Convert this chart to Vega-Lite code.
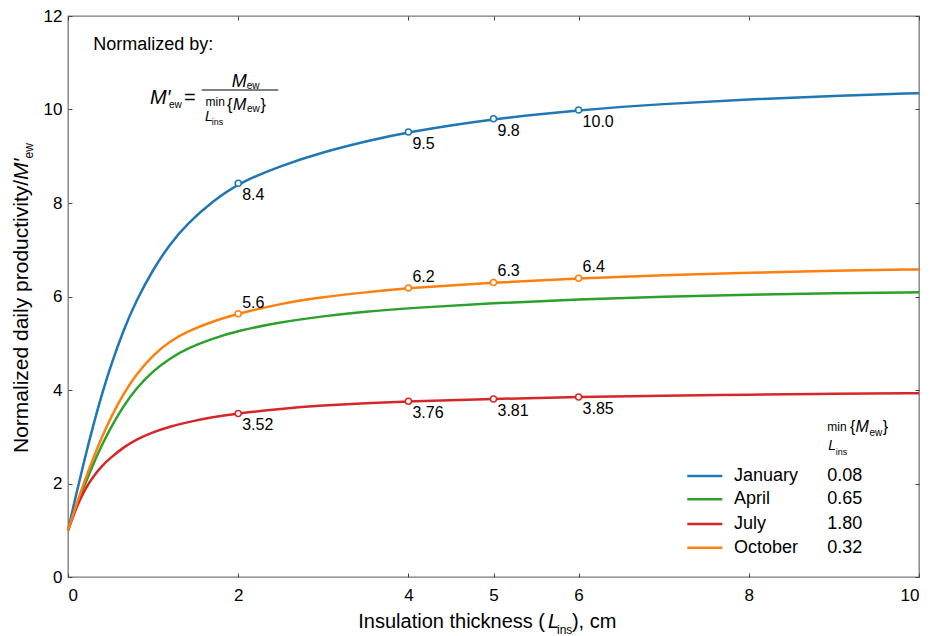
{
  "$schema": "https://vega.github.io/schema/vega-lite/v6.json",
  "width": 851,
  "height": 561,
  "autosize": {"type": "none"},
  "padding": {"left": 68, "top": 16, "right": 12, "bottom": 59},
  "background": "white",
  "config": {
    "view": {"stroke": "#7a7a7a", "strokeWidth": 1.3},
    "font": "Liberation Sans",
    "axis": {"domain": false, "grid": false, "ticks": true, "tickSize": -4, "tickColor": "#444", "tickWidth": 1, "labelFont": "Liberation Sans", "labelFontSize": 17, "labelColor": "#000"},
    "text": {"font": "Liberation Sans", "color": "#000"}
  },
  "datasets": {
    "curves": [
      {"series": "January", "x": 0, "y": 1.0}, {"series": "January", "x": 0.1, "y": 1.8}, {"series": "January", "x": 0.2, "y": 2.56}, {"series": "January", "x": 0.3, "y": 3.27}, {"series": "January", "x": 0.4, "y": 3.92}, {"series": "January", "x": 0.5, "y": 4.51}, {"series": "January", "x": 0.65, "y": 5.275}, {"series": "January", "x": 0.8, "y": 5.905}, {"series": "January", "x": 1.0, "y": 6.585}, {"series": "January", "x": 1.2, "y": 7.125}, {"series": "January", "x": 1.4, "y": 7.555}, {"series": "January", "x": 1.7, "y": 8.035}, {"series": "January", "x": 2, "y": 8.42}, {"series": "January", "x": 2.5, "y": 8.8}, {"series": "January", "x": 3, "y": 9.09}, {"series": "January", "x": 3.5, "y": 9.32}, {"series": "January", "x": 4, "y": 9.52}, {"series": "January", "x": 5, "y": 9.8}, {"series": "January", "x": 6, "y": 9.99}, {"series": "January", "x": 7, "y": 10.12}, {"series": "January", "x": 8, "y": 10.22}, {"series": "January", "x": 9, "y": 10.29}, {"series": "January", "x": 10, "y": 10.35},
      {"series": "April", "x": 0, "y": 1.0}, {"series": "April", "x": 0.1, "y": 1.51}, {"series": "April", "x": 0.2, "y": 1.99}, {"series": "April", "x": 0.3, "y": 2.43}, {"series": "April", "x": 0.4, "y": 2.83}, {"series": "April", "x": 0.5, "y": 3.19}, {"series": "April", "x": 0.65, "y": 3.655}, {"series": "April", "x": 0.8, "y": 4.03}, {"series": "April", "x": 1.0, "y": 4.41}, {"series": "April", "x": 1.2, "y": 4.68}, {"series": "April", "x": 1.4, "y": 4.89}, {"series": "April", "x": 1.7, "y": 5.1}, {"series": "April", "x": 2, "y": 5.27}, {"series": "April", "x": 2.5, "y": 5.45}, {"series": "April", "x": 3, "y": 5.58}, {"series": "April", "x": 3.5, "y": 5.68}, {"series": "April", "x": 4, "y": 5.75}, {"series": "April", "x": 5, "y": 5.86}, {"series": "April", "x": 6, "y": 5.94}, {"series": "April", "x": 7, "y": 6.0}, {"series": "April", "x": 8, "y": 6.04}, {"series": "April", "x": 9, "y": 6.07}, {"series": "April", "x": 10, "y": 6.09},
      {"series": "July", "x": 0, "y": 1.0}, {"series": "July", "x": 0.1, "y": 1.5}, {"series": "July", "x": 0.2, "y": 1.88}, {"series": "July", "x": 0.3, "y": 2.16}, {"series": "July", "x": 0.4, "y": 2.38}, {"series": "July", "x": 0.5, "y": 2.55}, {"series": "July", "x": 0.65, "y": 2.77}, {"series": "July", "x": 0.8, "y": 2.94}, {"series": "July", "x": 1.0, "y": 3.1}, {"series": "July", "x": 1.2, "y": 3.22}, {"series": "July", "x": 1.4, "y": 3.31}, {"series": "July", "x": 1.7, "y": 3.42}, {"series": "July", "x": 2, "y": 3.5}, {"series": "July", "x": 2.5, "y": 3.6}, {"series": "July", "x": 3, "y": 3.67}, {"series": "July", "x": 3.5, "y": 3.72}, {"series": "July", "x": 4, "y": 3.76}, {"series": "July", "x": 5, "y": 3.81}, {"series": "July", "x": 6, "y": 3.85}, {"series": "July", "x": 7, "y": 3.88}, {"series": "July", "x": 8, "y": 3.9}, {"series": "July", "x": 9, "y": 3.92}, {"series": "July", "x": 10, "y": 3.93},
      {"series": "October", "x": 0, "y": 1.0}, {"series": "October", "x": 0.1, "y": 1.56}, {"series": "October", "x": 0.2, "y": 2.08}, {"series": "October", "x": 0.3, "y": 2.56}, {"series": "October", "x": 0.4, "y": 3.0}, {"series": "October", "x": 0.5, "y": 3.4}, {"series": "October", "x": 0.65, "y": 3.918}, {"series": "October", "x": 0.8, "y": 4.33}, {"series": "October", "x": 1.0, "y": 4.75}, {"series": "October", "x": 1.2, "y": 5.05}, {"series": "October", "x": 1.4, "y": 5.25}, {"series": "October", "x": 1.7, "y": 5.47}, {"series": "October", "x": 2, "y": 5.63}, {"series": "October", "x": 2.5, "y": 5.85}, {"series": "October", "x": 3, "y": 5.99}, {"series": "October", "x": 3.5, "y": 6.09}, {"series": "October", "x": 4, "y": 6.18}, {"series": "October", "x": 5, "y": 6.3}, {"series": "October", "x": 6, "y": 6.39}, {"series": "October", "x": 7, "y": 6.46}, {"series": "October", "x": 8, "y": 6.51}, {"series": "October", "x": 9, "y": 6.55}, {"series": "October", "x": 10, "y": 6.58}
    ],
    "marked": [
      {"series": "January", "x": 2, "y": 8.42, "label": "8.4"}, {"series": "January", "x": 4, "y": 9.52, "label": "9.5"}, {"series": "January", "x": 5, "y": 9.8, "label": "9.8"}, {"series": "January", "x": 6, "y": 9.99, "label": "10.0"},
      {"series": "October", "x": 2, "y": 5.63, "label": "5.6"}, {"series": "October", "x": 4, "y": 6.18, "label": "6.2"}, {"series": "October", "x": 5, "y": 6.3, "label": "6.3"}, {"series": "October", "x": 6, "y": 6.39, "label": "6.4"},
      {"series": "July", "x": 2, "y": 3.5, "label": "3.52"}, {"series": "July", "x": 4, "y": 3.76, "label": "3.76"}, {"series": "July", "x": 5, "y": 3.81, "label": "3.81"}, {"series": "July", "x": 6, "y": 3.85, "label": "3.85"}
    ],
    "legendrows": [
      {"series": "January", "value": "0.08", "y": 2.161},
      {"series": "April", "value": "0.65", "y": 1.662},
      {"series": "July", "value": "1.80", "y": 1.134},
      {"series": "October", "value": "0.32", "y": 0.627}
    ],
    "t18": [{"x": 0.297, "y": 11.273, "text": "Normalized by:"}],
    "it21": [{"x": 0.964, "y": 10.118, "text": "M′"}],
    "n21": [{"x": 1.363, "y": 10.118, "text": "="}],
    "it18": [{"x": 1.924, "y": 10.481, "text": "M"}],
    "it16": [{"x": 1.939, "y": 9.989, "text": "M"}, {"x": 9.254, "y": 3.108, "text": "M"}],
    "n16": [{"x": 1.868, "y": 9.989, "text": "{"}, {"x": 2.262, "y": 9.989, "text": "}"}, {"x": 9.189, "y": 3.108, "text": "{"}, {"x": 9.574, "y": 3.108, "text": "}"}],
    "sub10": [{"x": 1.187, "y": 10.026, "text": "ew"}, {"x": 2.1, "y": 10.449, "text": "ew"}, {"x": 2.103, "y": 9.936, "text": "ew"}, {"x": 9.418, "y": 3.016, "text": "ew"}],
    "min12": [{"x": 1.616, "y": 10.075, "text": "min"}, {"x": 8.922, "y": 3.129, "text": "min"}],
    "itL14": [{"x": 1.61, "y": 9.75, "text": "L"}, {"x": 8.934, "y": 2.717, "text": "L"}],
    "ins9": [{"x": 1.689, "y": 9.665, "text": "ins"}, {"x": 9.021, "y": 2.61, "text": "ins"}],
    "bar": [{"x": 1.571, "x2": 2.471, "y": 10.417}],
    "xt20": [{"x": 3.411, "y": -1.097, "text": "Insulation thickness ("}, {"x": 5.922, "y": -1.097, "text": "), cm"}],
    "xtL": [{"x": 5.64, "y": -1.097, "text": "L"}],
    "xtins": [{"x": 5.746, "y": -1.219, "text": "ins"}],
    "yt21": [{"x": -0.47, "y": 2.652, "text": "Normalized daily productivity/"}],
    "ytM": [{"x": -0.47, "y": 8.492, "text": "M′"}],
    "ytew": [{"x": -0.411, "y": 8.952, "text": "ew"}]
  },
  "layer": [
    {
      "data": {"name": "curves"},
      "mark": {"type": "line", "strokeWidth": 2.5, "interpolate": "basis"},
      "encoding": {
        "x": {"field": "x", "type": "quantitative", "scale": {"domain": [0, 10], "nice": false, "zero": false}, "axis": {"orient": "bottom", "values": [0, 2, 4, 5, 6, 8, 10], "title": null, "labelPadding": 14}},
        "y": {"field": "y", "type": "quantitative", "scale": {"domain": [0, 12], "nice": false, "zero": false}, "axis": {"orient": "left", "values": [0, 2, 4, 6, 8, 10, 12], "title": null, "labelPadding": 10}},
        "color": {"field": "series", "type": "nominal", "scale": {"domain": ["January", "April", "July", "October"], "range": ["#1f77b4", "#2ca02c", "#d62728", "#ff7f0e"]}, "legend": null},
        "detail": {"field": "series"}
      }
    },
    {
      "data": {"name": "marked"},
      "mark": {"type": "point", "shape": "circle", "filled": false, "fill": "white", "fillOpacity": 1, "size": 36, "strokeWidth": 1.5, "opacity": 1},
      "encoding": {
        "x": {"field": "x", "type": "quantitative", "scale": {"domain": [0, 10], "nice": false, "zero": false}, "axis": {"orient": "top", "values": [0, 2, 4, 5, 6, 8, 10], "labels": false, "title": null}},
        "y": {"field": "y", "type": "quantitative", "scale": {"domain": [0, 12], "nice": false, "zero": false}, "axis": {"orient": "right", "values": [0, 2, 4, 6, 8, 10, 12], "labels": false, "title": null}},
        "color": {"field": "series", "type": "nominal", "scale": {"domain": ["January", "April", "July", "October"], "range": ["#1f77b4", "#2ca02c", "#d62728", "#ff7f0e"]}, "legend": null}
      }
    },
    {
      "data": {"name": "marked"},
      "transform": [{"filter": "datum.series !== 'October'"}],
      "mark": {"type": "text", "align": "left", "baseline": "middle", "dx": 4, "dy": 12, "fontSize": 16},
      "encoding": {
        "x": {"field": "x", "type": "quantitative", "scale": {"domain": [0, 10], "nice": false, "zero": false}, "axis": null},
        "y": {"field": "y", "type": "quantitative", "scale": {"domain": [0, 12], "nice": false, "zero": false}, "axis": null},
        "text": {"field": "label"}
      }
    },
    {
      "data": {"name": "marked"},
      "transform": [{"filter": "datum.series === 'October'"}],
      "mark": {"type": "text", "align": "left", "baseline": "middle", "dx": 4, "dy": -11, "fontSize": 16},
      "encoding": {
        "x": {"field": "x", "type": "quantitative", "scale": {"domain": [0, 10], "nice": false, "zero": false}, "axis": null},
        "y": {"field": "y", "type": "quantitative", "scale": {"domain": [0, 12], "nice": false, "zero": false}, "axis": null},
        "text": {"field": "label"}
      }
    },
    {
      "data": {"name": "legendrows"},
      "mark": {"type": "rule", "strokeWidth": 2.5},
      "encoding": {
        "x": {"datum": 7.277, "type": "quantitative", "scale": {"domain": [0, 10], "nice": false, "zero": false}, "axis": null},
        "x2": {"datum": 7.689},
        "y": {"field": "y", "type": "quantitative", "scale": {"domain": [0, 12], "nice": false, "zero": false}, "axis": null},
        "color": {"field": "series", "type": "nominal", "scale": {"domain": ["January", "April", "July", "October"], "range": ["#1f77b4", "#2ca02c", "#d62728", "#ff7f0e"]}, "legend": null}
      }
    },
    {
      "data": {"name": "legendrows"},
      "mark": {"type": "text", "align": "left", "baseline": "middle", "fontSize": 18},
      "encoding": {
        "x": {"datum": 7.826, "type": "quantitative", "scale": {"domain": [0, 10], "nice": false, "zero": false}, "axis": null},
        "y": {"field": "y", "type": "quantitative", "scale": {"domain": [0, 12], "nice": false, "zero": false}, "axis": null},
        "text": {"field": "series"}
      }
    },
    {
      "data": {"name": "legendrows"},
      "mark": {"type": "text", "align": "left", "baseline": "middle", "fontSize": 18},
      "encoding": {
        "x": {"datum": 8.922, "type": "quantitative", "scale": {"domain": [0, 10], "nice": false, "zero": false}, "axis": null},
        "y": {"field": "y", "type": "quantitative", "scale": {"domain": [0, 12], "nice": false, "zero": false}, "axis": null},
        "text": {"field": "value"}
      }
    },
    {
      "data": {"name": "bar"},
      "mark": {"type": "rule", "strokeWidth": 1, "color": "#000"},
      "encoding": {
        "x": {"field": "x", "type": "quantitative", "scale": {"domain": [0, 10], "nice": false, "zero": false}, "axis": null},
        "x2": {"field": "x2"},
        "y": {"field": "y", "type": "quantitative", "scale": {"domain": [0, 12], "nice": false, "zero": false}, "axis": null}
      }
    },
    {"data": {"name": "t18"}, "mark": {"type": "text", "align": "left", "baseline": "alphabetic", "fontSize": 18},
      "encoding": {"x": {"field": "x", "type": "quantitative", "scale": {"domain": [0, 10], "nice": false, "zero": false}, "axis": null}, "y": {"field": "y", "type": "quantitative", "scale": {"domain": [0, 12], "nice": false, "zero": false}, "axis": null}, "text": {"field": "text"}}},
    {"data": {"name": "it21"}, "mark": {"type": "text", "align": "left", "baseline": "alphabetic", "fontSize": 20, "fontStyle": "italic"},
      "encoding": {"x": {"field": "x", "type": "quantitative", "scale": {"domain": [0, 10], "nice": false, "zero": false}, "axis": null}, "y": {"field": "y", "type": "quantitative", "scale": {"domain": [0, 12], "nice": false, "zero": false}, "axis": null}, "text": {"field": "text"}}},
    {"data": {"name": "n21"}, "mark": {"type": "text", "align": "left", "baseline": "alphabetic", "fontSize": 20},
      "encoding": {"x": {"field": "x", "type": "quantitative", "scale": {"domain": [0, 10], "nice": false, "zero": false}, "axis": null}, "y": {"field": "y", "type": "quantitative", "scale": {"domain": [0, 12], "nice": false, "zero": false}, "axis": null}, "text": {"field": "text"}}},
    {"data": {"name": "it18"}, "mark": {"type": "text", "align": "left", "baseline": "alphabetic", "fontSize": 18, "fontStyle": "italic"},
      "encoding": {"x": {"field": "x", "type": "quantitative", "scale": {"domain": [0, 10], "nice": false, "zero": false}, "axis": null}, "y": {"field": "y", "type": "quantitative", "scale": {"domain": [0, 12], "nice": false, "zero": false}, "axis": null}, "text": {"field": "text"}}},
    {"data": {"name": "it16"}, "mark": {"type": "text", "align": "left", "baseline": "alphabetic", "fontSize": 16, "fontStyle": "italic"},
      "encoding": {"x": {"field": "x", "type": "quantitative", "scale": {"domain": [0, 10], "nice": false, "zero": false}, "axis": null}, "y": {"field": "y", "type": "quantitative", "scale": {"domain": [0, 12], "nice": false, "zero": false}, "axis": null}, "text": {"field": "text"}}},
    {"data": {"name": "n16"}, "mark": {"type": "text", "align": "left", "baseline": "alphabetic", "fontSize": 16},
      "encoding": {"x": {"field": "x", "type": "quantitative", "scale": {"domain": [0, 10], "nice": false, "zero": false}, "axis": null}, "y": {"field": "y", "type": "quantitative", "scale": {"domain": [0, 12], "nice": false, "zero": false}, "axis": null}, "text": {"field": "text"}}},
    {"data": {"name": "sub10"}, "mark": {"type": "text", "align": "left", "baseline": "alphabetic", "fontSize": 10},
      "encoding": {"x": {"field": "x", "type": "quantitative", "scale": {"domain": [0, 10], "nice": false, "zero": false}, "axis": null}, "y": {"field": "y", "type": "quantitative", "scale": {"domain": [0, 12], "nice": false, "zero": false}, "axis": null}, "text": {"field": "text"}}},
    {"data": {"name": "min12"}, "mark": {"type": "text", "align": "left", "baseline": "alphabetic", "fontSize": 12},
      "encoding": {"x": {"field": "x", "type": "quantitative", "scale": {"domain": [0, 10], "nice": false, "zero": false}, "axis": null}, "y": {"field": "y", "type": "quantitative", "scale": {"domain": [0, 12], "nice": false, "zero": false}, "axis": null}, "text": {"field": "text"}}},
    {"data": {"name": "itL14"}, "mark": {"type": "text", "align": "left", "baseline": "alphabetic", "fontSize": 14, "fontStyle": "italic"},
      "encoding": {"x": {"field": "x", "type": "quantitative", "scale": {"domain": [0, 10], "nice": false, "zero": false}, "axis": null}, "y": {"field": "y", "type": "quantitative", "scale": {"domain": [0, 12], "nice": false, "zero": false}, "axis": null}, "text": {"field": "text"}}},
    {"data": {"name": "ins9"}, "mark": {"type": "text", "align": "left", "baseline": "alphabetic", "fontSize": 9},
      "encoding": {"x": {"field": "x", "type": "quantitative", "scale": {"domain": [0, 10], "nice": false, "zero": false}, "axis": null}, "y": {"field": "y", "type": "quantitative", "scale": {"domain": [0, 12], "nice": false, "zero": false}, "axis": null}, "text": {"field": "text"}}},
    {"data": {"name": "xt20"}, "mark": {"type": "text", "align": "left", "baseline": "alphabetic", "fontSize": 20},
      "encoding": {"x": {"field": "x", "type": "quantitative", "scale": {"domain": [0, 10], "nice": false, "zero": false}, "axis": null}, "y": {"field": "y", "type": "quantitative", "scale": {"domain": [0, 12], "nice": false, "zero": false}, "axis": null}, "text": {"field": "text"}}},
    {"data": {"name": "xtL"}, "mark": {"type": "text", "align": "left", "baseline": "alphabetic", "fontSize": 20, "fontStyle": "italic"},
      "encoding": {"x": {"field": "x", "type": "quantitative", "scale": {"domain": [0, 10], "nice": false, "zero": false}, "axis": null}, "y": {"field": "y", "type": "quantitative", "scale": {"domain": [0, 12], "nice": false, "zero": false}, "axis": null}, "text": {"field": "text"}}},
    {"data": {"name": "xtins"}, "mark": {"type": "text", "align": "left", "baseline": "alphabetic", "fontSize": 12},
      "encoding": {"x": {"field": "x", "type": "quantitative", "scale": {"domain": [0, 10], "nice": false, "zero": false}, "axis": null}, "y": {"field": "y", "type": "quantitative", "scale": {"domain": [0, 12], "nice": false, "zero": false}, "axis": null}, "text": {"field": "text"}}},
    {"data": {"name": "yt21"}, "mark": {"type": "text", "align": "left", "baseline": "alphabetic", "fontSize": 21, "angle": 270},
      "encoding": {"x": {"field": "x", "type": "quantitative", "scale": {"domain": [0, 10], "nice": false, "zero": false}, "axis": null}, "y": {"field": "y", "type": "quantitative", "scale": {"domain": [0, 12], "nice": false, "zero": false}, "axis": null}, "text": {"field": "text"}}},
    {"data": {"name": "ytM"}, "mark": {"type": "text", "align": "left", "baseline": "alphabetic", "fontSize": 21, "fontStyle": "italic", "angle": 270},
      "encoding": {"x": {"field": "x", "type": "quantitative", "scale": {"domain": [0, 10], "nice": false, "zero": false}, "axis": null}, "y": {"field": "y", "type": "quantitative", "scale": {"domain": [0, 12], "nice": false, "zero": false}, "axis": null}, "text": {"field": "text"}}},
    {"data": {"name": "ytew"}, "mark": {"type": "text", "align": "left", "baseline": "alphabetic", "fontSize": 12, "angle": 270},
      "encoding": {"x": {"field": "x", "type": "quantitative", "scale": {"domain": [0, 10], "nice": false, "zero": false}, "axis": null}, "y": {"field": "y", "type": "quantitative", "scale": {"domain": [0, 12], "nice": false, "zero": false}, "axis": null}, "text": {"field": "text"}}}
  ],
  "resolve": {"axis": {"x": "independent", "y": "independent"}}
}
